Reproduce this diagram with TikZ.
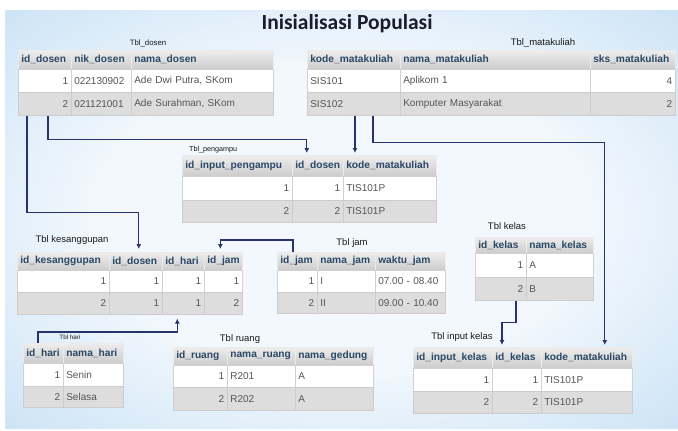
\documentclass[tikz,border=0pt]{standalone}
\usepackage{fontspec}
\setmainfont{Liberation Sans}
\newfontfamily\titlefont{Carlito}
\usetikzlibrary{arrows.meta,calc}
\definecolor{hdtext}{HTML}{2B4866}
\definecolor{celltext}{HTML}{555555}
\definecolor{connc}{HTML}{26336E}
\definecolor{panelout}{HTML}{BFDCF3}
\definecolor{panelin}{HTML}{F2F8FD}
\definecolor{rowgray}{HTML}{DDDDDD}
\definecolor{titlecol}{HTML}{1C1C2C}
\definecolor{lblcol}{HTML}{1A1A1A}
\pgfdeclareradialshading{panelshade}{\pgfpoint{0bp}{0bp}}{color(0bp)=(panelin); color(18bp)=(panelin); color(42bp)=(panelout); color(50bp)=(panelout)}
\newcommand\trow[6]{%
  \foreach \cX/\cW/\cA/\cT [count=\ci] in {#6}{%
    \pgfmathsetmacro\tw{\cW-6}%
    \edef\tmpnode{\noexpand\node[#3, align=\cA, text width=\tw pt, minimum height=#5pt] (#1-#2c\ci) at (\cX,#4) {\unexpanded\expandafter{\cT}};}%
    \tmpnode
  }}
\tikzset{
  cellbase/.style={anchor=north west, inner xsep=3pt, inner ysep=0pt, line width=0.6pt},
  hd/.style={cellbase, top color=white!93!black, bottom color=white!80!black, draw=white!92!black, text=hdtext, font=\bfseries\fontsize{10.2}{11}\selectfont},
  ra/.style={cellbase, fill=white, draw=white!82!black, text=celltext, font=\fontsize{10}{11}\selectfont},
  rb/.style={cellbase, fill=rowgray, draw=white!80!black, text=celltext, font=\fontsize{10}{11}\selectfont},
  lbl/.style={text=lblcol, inner sep=0pt},
  link/.style={draw=connc, line width=1.1pt, -{Latex[length=5pt,width=5pt]}}
}
\begin{document}
\begin{tikzpicture}[x=1pt,y=-1pt]
\useasboundingbox (0,0) rectangle (678,431);
\fill[white] (0,0) rectangle (678,431);
\shade[shading=panelshade] (5,10) rectangle (678,428);

\node[font=\titlefont\bfseries\fontsize{21.5}{24}\selectfont, text=titlecol, inner sep=0pt] (title) at (347,24) {Inisialisasi Populasi};

% Tbl_dosen
\node[lbl, font=\fontsize{7.8}{9}\selectfont] (dosen-lbl) at (148,43) {Tbl\_dosen};
\trow{dosen}{h}{hd}{50}{19}{18/53/left/id\_dosen, 71/60/left/nik\_dosen, 131/142/left/nama\_dosen}
\trow{dosen}{r1}{ra}{69}{23}{18/53/right/1, 71/60/left/022130902, 131/142/left/{Ade Dwi Putra, SKom}}
\trow{dosen}{r2}{rb}{92}{23}{18/53/right/2, 71/60/left/021121001, 131/142/left/{Ade Surahman, SKom}}

% Tbl_matakuliah
\node[lbl, font=\fontsize{9.5}{11}\selectfont] (mk-lbl) at (543,43) {Tbl\_matakuliah};
\trow{mk}{h}{hd}{50}{19}{307/93/left/kode\_matakuliah, 400/190/left/nama\_matakuliah, 590/85/left/sks\_matakuliah}
\trow{mk}{r1}{ra}{69}{23}{307/93/left/SIS101, 400/190/left/Aplikom 1, 590/85/right/4}
\trow{mk}{r2}{rb}{92}{23}{307/93/left/SIS102, 400/190/left/Komputer Masyarakat, 590/85/right/2}

% Tbl_pengampu
\node[lbl, font=\fontsize{7.2}{8}\selectfont, anchor=west] (peng-lbl) at (189,150) {Tbl\_pengampu};
\trow{peng}{h}{hd}{155}{21}{182/110/left/id\_input\_pengampu, 292/51/left/id\_dosen, 343/93/left/kode\_matakuliah}
\trow{peng}{r1}{ra}{176}{24}{182/110/right/1, 292/51/right/1, 343/93/left/TIS101P}
\trow{peng}{r2}{rb}{200}{22}{182/110/right/2, 292/51/right/2, 343/93/left/TIS101P}

% Tbl kesanggupan
\node[lbl, font=\fontsize{9.5}{11}\selectfont] (kes-lbl) at (72,240) {Tbl kesanggupan};
\trow{kes}{h}{hd}{252}{18}{17/92/left/id\_kesanggupan, 109/53/left/id\_dosen, 162/42/left/id\_hari, 204/38/left/id\_jam}
\trow{kes}{r1}{ra}{270}{22}{17/92/right/1, 109/53/right/1, 162/42/right/1, 204/38/right/1}
\trow{kes}{r2}{rb}{292}{22}{17/92/right/2, 109/53/right/1, 162/42/right/1, 204/38/right/2}

% Tbl jam
\node[lbl, font=\fontsize{9.5}{11}\selectfont] (jam-lbl) at (352,243) {Tbl jam};
\trow{jam}{h}{hd}{252}{18}{277/40/left/id\_jam, 317/58/left/nama\_jam, 375/70/left/waktu\_jam}
\trow{jam}{r1}{ra}{270}{22}{277/40/right/1, 317/58/left/I, 375/70/left/07.00 - 08.40}
\trow{jam}{r2}{rb}{292}{21}{277/40/right/2, 317/58/left/II, 375/70/left/09.00 - 10.40}

% Tbl kelas
\node[lbl, font=\fontsize{9.5}{11}\selectfont] (kel-lbl) at (507,226) {Tbl kelas};
\trow{kel}{h}{hd}{237}{16}{475/51/left/id\_kelas, 526/67/left/nama\_kelas}
\trow{kel}{r1}{ra}{253}{24}{475/51/right/1, 526/67/left/A}
\trow{kel}{r2}{rb}{277}{23}{475/51/right/2, 526/67/left/B}

% Tbl input kelas
\node[lbl, font=\fontsize{9.5}{11}\selectfont] (ink-lbl) at (462,337) {Tbl input kelas};
\trow{ink}{h}{hd}{347}{21}{413/79/left/id\_input\_kelas, 492/49/left/id\_kelas, 541/91/left/kode\_matakuliah}
\trow{ink}{r1}{ra}{368}{23}{413/79/right/1, 492/49/right/1, 541/91/left/TIS101P}
\trow{ink}{r2}{rb}{391}{22}{413/79/right/2, 492/49/right/2, 541/91/left/TIS101P}

% Tbl hari
\node[lbl, font=\fontsize{6.3}{7}\selectfont] (hari-lbl) at (70,337) {Tbl hari};
\trow{hari}{h}{hd}{343}{20}{23/40/left/id\_hari, 63/60/left/nama\_hari}
\trow{hari}{r1}{ra}{363}{23}{23/40/right/1, 63/60/left/Senin}
\trow{hari}{r2}{rb}{386}{21}{23/40/right/2, 63/60/left/Selasa}

% Tbl ruang
\node[lbl, font=\fontsize{9.5}{11}\selectfont] (ruang-lbl) at (240,339) {Tbl ruang};
\trow{ruang}{h}{hd}{347}{18}{173/54/left/id\_ruang, 227/68/left/nama\_ruang, 295/78/left/nama\_gedung}
\trow{ruang}{r1}{ra}{365}{22}{173/54/right/1, 227/68/left/R201, 295/78/left/A}
\trow{ruang}{r2}{rb}{387}{23}{173/54/right/2, 227/68/left/R202, 295/78/left/A}

% connectors
\draw[link] ($(dosen-r2c1.south west)+(9,0)$) -- ++(0,97) -| ($(kes-hc2.north)+(3,-3)$);
\draw[link] ($(dosen-r2c1.south west)+(30,0)$) -- ++(0,24) -| ($(peng-hc2.north)+(-11,-2)$);
\draw[link] ($(mk-r2c1.south west)+(48,0)$) -- ($(peng-hc3.north west)+(12,-2)$);
\draw[link] ($(mk-r2c1.south west)+(66,0)$) -- ++(0,27) -| ($(ink-hc3.north)+(18,-2)$);
\draw[link] ($(jam-hc1.north west)+(16,0)$) -- ++(0,-12) -| ($(kes-hc4.north)+(-3,-3)$);
\draw[link] ($(hari-hc1.north west)+(15,0)$) -- ++(0,-11) -| ($(kes-r2c3.south)+(-6,4)$);
\draw[link] ($(kel-r2c1.south west)+(41,0)$) -- ++(0,22) -| ($(ink-hc2.north west)+(10,-2)$);
\end{tikzpicture}
\end{document}
